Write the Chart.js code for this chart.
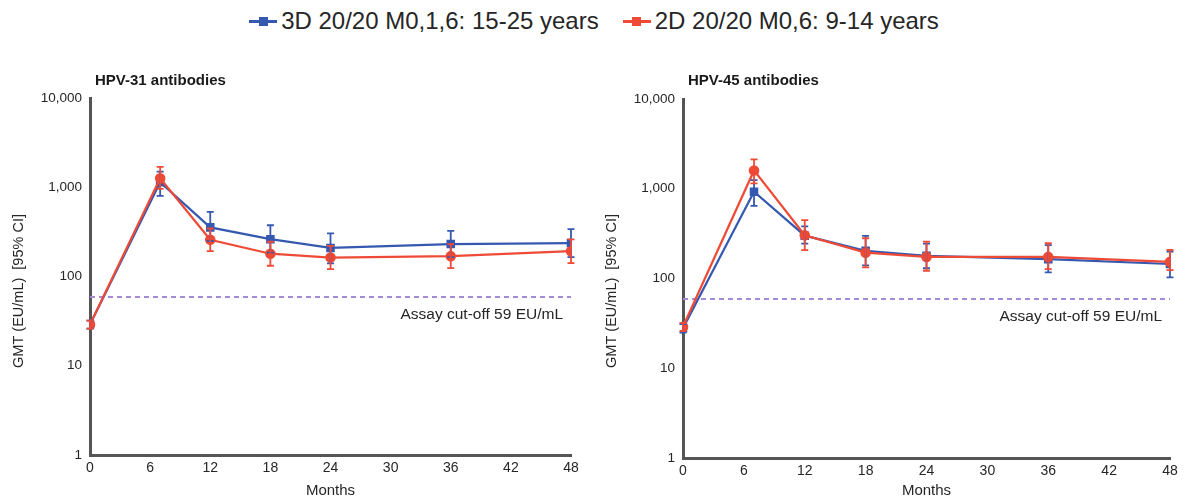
<!DOCTYPE html>
<html>
<head>
<meta charset="utf-8">
<script src="https://cdn.jsdelivr.net/npm/chart.js@4/dist/chart.umd.min.js"></script>
<style>
  html, body { margin: 0; padding: 0; background: #fff; }
  body { width: 1188px; height: 504px; position: relative; overflow: hidden;
         font-family: "Liberation Sans", Arial, sans-serif; }
  #legend { position: absolute; top: 7px; left: 0; width: 1188px; display: flex;
            justify-content: center; align-items: center; gap: 24px; }
  .item { display: flex; align-items: center; font-size: 24px; color: #262626; }
  .mark { position: relative; width: 28px; height: 3px; margin-right: 4px; }
  .mark i { position: absolute; left: 9.5px; top: -3px; width: 9px; height: 9px; }
  .wrap { position: absolute; top: 60px; width: 594px; height: 444px; }
  #w1 { left: 0; } #w2 { left: 594px; }
</style>
</head>
<body>
<div id="legend"></div>
<div class="wrap" id="w1"><canvas id="c1"></canvas></div>
<div class="wrap" id="w2"><canvas id="c2"></canvas></div>
<script>
// Visit months
const months = [0, 7, 12, 18, 24, 36, 48];

// Series labels
const seriesNames = ['3D 20/20 M0,1,6: 15-25 years', '2D 20/20 M0,6: 9-14 years'];
const seriesColors = ['#3558b0', '#ef4a36'];

// HPV-31 GMT (EU/mL) with 95% CI
const hpv31ThreeDose = [29, 1140, 355, 262, 209, 231, 237];
const hpv31ThreeDoseLow = [26, 800, 250, 185, 140, 165, 165];
const hpv31ThreeDoseHigh = [32, 1500, 530, 375, 305, 325, 340];
const hpv31TwoDose = [29, 1260, 258, 180, 163, 169, 192];
const hpv31TwoDoseLow = [26, 960, 192, 132, 121, 124, 141];
const hpv31TwoDoseHigh = [32, 1690, 345, 245, 220, 230, 260];

// HPV-45 GMT (EU/mL) with 95% CI
const hpv45ThreeDose = [28, 926, 300, 203, 179, 164, 145];
const hpv45ThreeDoseLow = [25, 643, 245, 140, 130, 117, 103];
const hpv45ThreeDoseHigh = [31, 1250, 380, 298, 245, 235, 200];
const hpv45TwoDose = [29, 1600, 303, 194, 174, 174, 153];
const hpv45TwoDoseLow = [26, 1150, 207, 133, 122, 127, 124];
const hpv45TwoDoseHigh = [32, 2120, 446, 281, 258, 247, 208];

// Assay cut-off and axis ticks
const cutOff = 59;
const cutOffLabel = 'Assay cut-off 59 EU/mL';
const yTicks = [1, 10, 100, 1000, 10000];
const xTicks = [0, 6, 12, 18, 24, 30, 36, 42, 48];
const yTitle = 'GMT (EU/mL)  [95% CI]';
const xTitle = 'Months';

const FONT = '"Liberation Sans", Arial, sans-serif';

// HTML legend
const legend = document.getElementById('legend');
seriesNames.forEach((name, i) => {
  const it = document.createElement('div');
  it.className = 'item';
  it.innerHTML = '<span class="mark" style="background:' + seriesColors[i] + '"><i style="background:' +
    seriesColors[i] + '"></i></span><span>' + name + '</span>';
  legend.appendChild(it);
});

const pts = (ys) => months.map((m, i) => ({ x: m, y: ys[i] }));

// Error bars, panel title, y-axis title and cut-off label
const extras = {
  id: 'extras',
  afterDatasetsDraw(chart, args, opts) {
    const { ctx, scales: { x, y }, chartArea } = chart;
    ctx.save();
    chart.data.datasets.forEach(ds => {
      if (!ds.low) return;
      ctx.strokeStyle = ds.borderColor;
      ctx.lineWidth = 1.8;
      months.forEach((m, i) => {
        const px = x.getPixelForValue(m);
        const lo = y.getPixelForValue(ds.low[i]);
        const hi = y.getPixelForValue(ds.high[i]);
        ctx.beginPath();
        ctx.moveTo(px, lo); ctx.lineTo(px, hi);
        ctx.moveTo(px - 3.5, lo); ctx.lineTo(px + 3.5, lo);
        ctx.moveTo(px - 3.5, hi); ctx.lineTo(px + 3.5, hi);
        ctx.stroke();
      });
    });
    ctx.fillStyle = '#1a1a1a';
    ctx.font = 'bold 15px ' + FONT;
    ctx.textBaseline = 'middle';
    ctx.textAlign = 'left';
    ctx.fillText(opts.title, chartArea.left + 5, 21);

    ctx.font = '15.5px ' + FONT;
    ctx.fillStyle = '#262626';
    ctx.textAlign = 'right';
    ctx.fillText(cutOffLabel, x.getPixelForValue(48) - 8, y.getPixelForValue(cutOff) + 18);

    ctx.save();
    ctx.translate(opts.yTitleX, opts.yTitleY);
    ctx.rotate(-Math.PI / 2);
    ctx.textAlign = 'center';
    ctx.font = '14.5px ' + FONT;
    ctx.fillText(yTitle, 0, 0);
    ctx.restore();
    ctx.restore();
  }
};

function makeChart(id, title, b, bLo, bHi, r, rLo, rHi, pad, xh, yt) {
  return new Chart(document.getElementById(id), {
    type: 'line',
    data: {
      datasets: [
        { label: 'cut-off', data: [{ x: 0, y: cutOff }, { x: 48, y: cutOff }],
          borderColor: '#a58bd6', borderWidth: 2, borderDash: [5, 4], pointRadius: 0, order: 3 },
        { label: seriesNames[0], data: pts(b), low: bLo, high: bHi,
          borderColor: seriesColors[0], backgroundColor: seriesColors[0], borderWidth: 2.2,
          pointStyle: 'rect', pointRadius: 4.5, order: 2 },
        { label: seriesNames[1], data: pts(r), low: rLo, high: rHi,
          borderColor: seriesColors[1], backgroundColor: seriesColors[1], borderWidth: 2.2,
          pointStyle: 'circle', pointRadius: 4.2, order: 1 }
      ]
    },
    options: {
      responsive: true, maintainAspectRatio: false, animation: false,
      layout: { padding: pad },
      plugins: { legend: { display: false }, tooltip: { enabled: false },
                 extras: { title, yTitleX: yt[0], yTitleY: yt[1] } },
      scales: {
        x: {
          type: 'linear', min: 0, max: 48,
          afterBuildTicks: s => { s.ticks = xTicks.map(v => ({ value: v })); },
          afterFit: s => { s.height = xh; },
          grid: { display: false, drawOnChartArea: false, tickLength: 4, tickColor: '#555' },
          border: { display: true, color: '#555', width: 3 },
          ticks: { color: '#262626', font: { size: 14, family: FONT }, padding: 1, maxRotation: 0 },
          title: { display: true, text: xTitle, color: '#262626', font: { size: 15, family: FONT }, padding: { top: 1 } }
        },
        y: {
          type: 'logarithmic', min: 1, max: 10000,
          afterBuildTicks: s => { s.ticks = yTicks.map(v => ({ value: v })); },
          afterFit: s => { s.width = pad.yw; },
          grid: { display: false, drawOnChartArea: false, tickLength: 4, tickColor: '#555' },
          border: { display: true, color: '#555', width: 3 },
          ticks: { color: '#262626', font: { size: 13.5, family: FONT }, padding: 4,
                   callback: v => Number(v).toLocaleString('en-US') }
        }
      }
    },
    plugins: [extras]
  });
}

makeChart('c1', 'HPV-31 antibodies',
  hpv31ThreeDose, hpv31ThreeDoseLow, hpv31ThreeDoseHigh,
  hpv31TwoDose, hpv31TwoDoseLow, hpv31TwoDoseHigh,
  { left: 0, top: 38, right: 23, bottom: 0, yw: 90 }, 49, [19, 231]);
makeChart('c2', 'HPV-45 antibodies',
  hpv45ThreeDose, hpv45ThreeDoseLow, hpv45ThreeDoseHigh,
  hpv45TwoDose, hpv45TwoDoseLow, hpv45TwoDoseHigh,
  { left: 0, top: 39, right: 18, bottom: 0, yw: 89 }, 46, [18, 231]);
</script>
</body>
</html>
